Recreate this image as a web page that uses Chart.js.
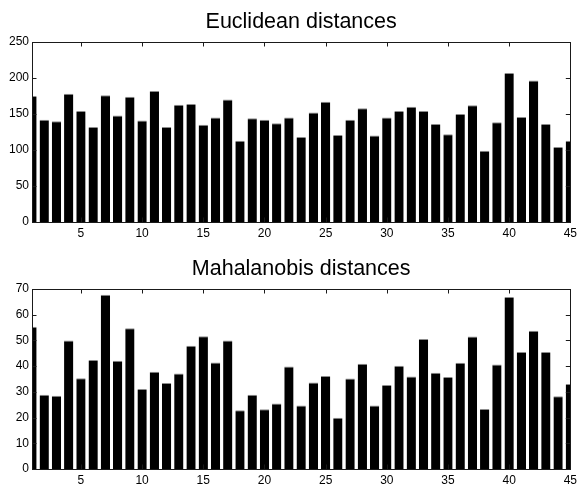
<!DOCTYPE html>
<html>
<head>
<meta charset="utf-8">
<script src="https://cdn.jsdelivr.net/npm/chart.js@4"></script>
<style>
  html, body { margin: 0; padding: 0; background: #fff; overflow: hidden; }
  .box { position: absolute; left: 0; width: 581px; height: 240px; }
</style>
</head>
<body>
<div class="box" style="top:0px"><canvas id="euc" width="581" height="240"></canvas></div>
<div class="box" style="top:247px"><canvas id="mah" width="581" height="240"></canvas></div>
<script>
// sample index 1..45
const samples = [1, 2, 3, 4, 5, 6, 7, 8, 9, 10, 11, 12, 13, 14, 15, 16, 17, 18, 19, 20, 21, 22, 23,
  24, 25, 26, 27, 28, 29, 30, 31, 32, 33, 34, 35, 36, 37, 38, 39, 40, 41, 42, 43, 44, 45];

const euclidean = [175, 142, 140, 178, 154, 132, 176, 148, 174, 141, 182, 132, 163, 164, 135,
  145, 170, 113, 144, 142, 137, 145, 118, 152, 167, 121, 142, 158, 120, 145,
  154, 160, 154, 136, 122, 150, 162, 99, 138.5, 207, 146, 196.5, 136, 104, 113];

const mahalanobis = [55.3, 28.9, 28.5, 50, 35.3, 42.4, 67.8, 42.1, 54.7, 31.1, 37.8, 33.4, 37.1, 47.9, 51.6,
  41.4, 50, 22.8, 28.9, 23.2, 25.5, 39.9, 24.7, 33.6, 36.2, 19.9, 35.2, 40.9, 24.7, 32.7,
  40.2, 36, 50.6, 37.4, 35.8, 41.3, 51.5, 23.3, 40.6, 66.9, 45.5, 53.8, 45.5, 28.3, 33.1];

const xTicks = [5, 10, 15, 20, 25, 30, 35, 40, 45];
const eucTicks = [0, 50, 100, 150, 200, 250];
const mahTicks = [0, 10, 20, 30, 40, 50, 60, 70];

const FONT = "'Liberation Sans', Arial, Helvetica, sans-serif";

// matlab style box with inward tick marks
const boxPlugin = {
  id: 'boxAxes',
  afterDatasetsDraw(chart) {
    const { ctx, chartArea: a, scales } = chart;
    const len = 4.5;
    ctx.save();
    ctx.strokeStyle = '#1a1a1a';
    ctx.lineWidth = 1;
    ctx.beginPath();
    scales.x.ticks.forEach(t => {
      const px = Math.round(scales.x.getPixelForValue(t.value)) + 0.5;
      ctx.moveTo(px, a.bottom); ctx.lineTo(px, a.bottom - len);
      ctx.moveTo(px, a.top); ctx.lineTo(px, a.top + len);
    });
    scales.y.ticks.forEach(t => {
      const py = Math.round(scales.y.getPixelForValue(t.value)) + 0.5;
      ctx.moveTo(a.left, py); ctx.lineTo(a.left + len, py);
      ctx.moveTo(a.right, py); ctx.lineTo(a.right - len, py);
    });
    ctx.stroke();
    ctx.strokeRect(Math.round(a.left) + 0.5, Math.round(a.top) + 0.5,
      Math.round(a.right - a.left), Math.round(a.bottom - a.top));
    ctx.restore();
  }
};

function makeChart(id, title, values, yTicks, yMax) {
  return new Chart(document.getElementById(id), {
    type: 'bar',
    data: {
      labels: samples,
      datasets: [{
        data: values,
        backgroundColor: '#000',
        borderColor: '#8c8c8c',
        borderWidth: { top: 1, left: 0, right: 0, bottom: 0 },
        borderSkipped: false,
        barPercentage: 0.76,
        categoryPercentage: 1,
        clip: 0
      }]
    },
    options: {
      responsive: false,
      animation: false,
      devicePixelRatio: 1,
      layout: { padding: { top: 0, right: 0, bottom: 0, left: 0 } },
      plugins: {
        legend: { display: false },
        tooltip: { enabled: false },
        title: {
          display: true,
          text: title,
          fullSize: false,
          color: '#000',
          font: { family: FONT, size: 21.5, weight: 'normal', lineHeight: 1.2 },
          padding: { top: 9, bottom: 7.2 }
        }
      },
      scales: {
        x: {
          type: 'linear',
          min: 1,
          max: 45,
          offset: false,
          grid: { display: false, drawTicks: false },
          border: { display: false },
          afterBuildTicks: s => { s.ticks = xTicks.map(v => ({ value: v })); },
          afterFit: s => { s.height = 18; },
          ticks: { color: '#000', padding: 4, maxRotation: 0, autoSkip: false,
            font: { family: FONT, size: 12 } }
        },
        y: {
          min: 0,
          max: yMax,
          grid: { display: false, drawTicks: false },
          border: { display: false },
          afterBuildTicks: s => { s.ticks = yTicks.map(v => ({ value: v })); },
          afterFit: s => { s.width = 32; },
          ticks: { color: '#000', padding: 3, font: { family: FONT, size: 12 } }
        }
      }
    },
    plugins: [boxPlugin]
  });
}

makeChart('euc', 'Euclidean distances', euclidean, eucTicks, 250);
makeChart('mah', 'Mahalanobis distances', mahalanobis, mahTicks, 70);
</script>
</body>
</html>
